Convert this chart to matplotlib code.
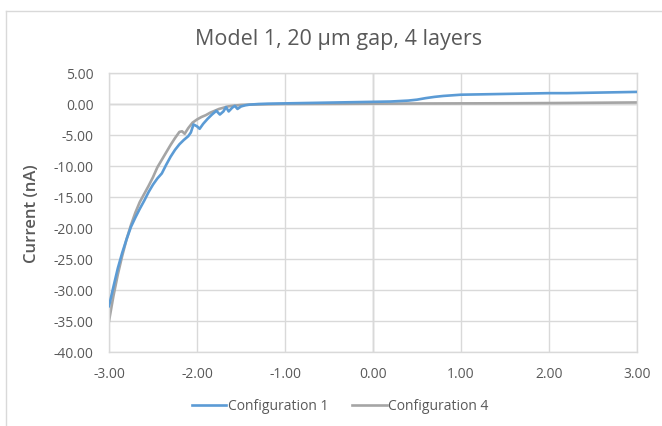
import numpy as np
import matplotlib.pyplot as plt
from matplotlib.lines import Line2D
from matplotlib.ticker import FormatStrFormatter

plt.rcParams['font.family'] = ['Open Sans', 'DejaVu Sans']

# Configuration 1 (blue)
x1 = [-3.0, -2.95, -2.9, -2.85, -2.8, -2.75, -2.7, -2.65, -2.6, -2.55, -2.5,
      -2.45, -2.4, -2.35, -2.3, -2.25, -2.2, -2.15, -2.1, -2.07, -2.04, -2.0,
      -1.97, -1.93, -1.88, -1.83, -1.78, -1.74, -1.70, -1.67, -1.64, -1.6,
      -1.57, -1.54, -1.5, -1.45, -1.4, -1.3, -1.2, -1.0, -0.8, -0.6, -0.4,
      -0.2, 0.0, 0.2, 0.4, 0.5, 0.6, 0.7, 0.8, 0.9, 1.0, 1.2, 1.4, 1.6, 1.8,
      2.0, 2.2, 2.4, 2.6, 2.8, 3.0]
y1 = [-32.6, -29.5, -26.5, -24.0, -21.8, -19.8, -18.3, -16.9, -15.6, -14.2, -13.0,
      -12.0, -11.2, -9.8, -8.5, -7.4, -6.5, -5.8, -5.2, -4.6, -3.3, -3.6,
      -4.0, -3.2, -2.4, -1.7, -1.1, -1.7, -1.2, -0.5, -1.2, -0.6,
      -0.3, -0.8, -0.4, -0.2, -0.1, 0.0, 0.05, 0.1, 0.15, 0.2, 0.25,
      0.3, 0.35, 0.4, 0.55, 0.7, 0.95, 1.15, 1.3, 1.4, 1.5, 1.55, 1.6, 1.65, 1.7,
      1.75, 1.75, 1.8, 1.85, 1.9, 1.95]

# Configuration 4 (gray)
x4 = [-3.0, -2.95, -2.9, -2.85, -2.8, -2.75, -2.7, -2.65, -2.6, -2.55, -2.5,
      -2.45, -2.4, -2.35, -2.3, -2.25, -2.2, -2.17, -2.14, -2.1, -2.05, -2.0,
      -1.95, -1.9, -1.85, -1.8, -1.75, -1.7, -1.65, -1.6, -1.5, -1.4, -1.2,
      -1.0, -0.5, 0.0, 0.5, 1.0, 1.5, 2.0, 2.5, 3.0]
y4 = [-35.0, -31.0, -27.5, -24.5, -21.8, -19.5, -17.5, -15.8, -14.5, -13.2, -11.8,
      -10.2, -9.0, -7.8, -6.6, -5.5, -4.5, -4.4, -4.8, -3.9, -3.0, -2.5,
      -2.1, -1.8, -1.4, -1.1, -0.8, -0.6, -0.4, -0.3, -0.15, -0.1, -0.05,
      0.0, 0.02, 0.05, 0.08, 0.1, 0.12, 0.15, 0.2, 0.25]

txt = '#595959'
grid = '#D9D9D9'

fig = plt.figure(figsize=(6.62, 4.27), dpi=100)
ax = fig.add_axes([109/662, 1-353/427, (637-109)/662, (353-74)/427])

ax.plot(x1, y1, color='#5B9BD5', lw=1.9, label='Configuration 1', zorder=3)
ax.plot(x4, y4, color='#A5A5A5', lw=1.9, label='Configuration 4', zorder=2)

ax.set_xlim(-3, 3)
ax.set_ylim(-40, 5)
ax.set_xticks(np.arange(-3, 4, 1))
ax.set_yticks(np.arange(-40, 10, 5))
ax.xaxis.set_major_formatter(FormatStrFormatter('%.2f'))
ax.yaxis.set_major_formatter(FormatStrFormatter('%.2f'))
ax.grid(True, color=grid, lw=1.0, zorder=0)
ax.axhline(0, color='#BFBFBF', lw=1.0, zorder=1)
ax.axvline(0, color='#BFBFBF', lw=1.0, zorder=1)
for s in ax.spines.values():
    s.set_color(grid)
    s.set_linewidth(1.0)
ax.tick_params(length=0, labelcolor=txt, labelsize=10)
ax.tick_params(axis='y', pad=11)
ax.tick_params(axis='x', pad=10)

ax.set_ylabel('Current (nA)', color=txt, fontsize=12, fontweight='semibold')
ax.yaxis.set_label_coords(-0.131, 0.5)
fig.text(339/662, 1-39/427, 'Model 1, 20 µm gap, 4 layers', ha='center', va='center',
         color=txt, fontsize=15.5)

fig.legend(loc='center', bbox_to_anchor=(340/662, 1-407/427), ncol=2, frameon=False,
           fontsize=10, labelcolor=txt, handlelength=2.5, handletextpad=0.1,
           columnspacing=1.7)

# chart area border
fig.add_artist(Line2D([6/662, 6/662], [0, 1-12/427], transform=fig.transFigure,
                      color='#D9D9D9', lw=1.0))
fig.add_artist(Line2D([6/662, 1], [1-12/427, 1-12/427], transform=fig.transFigure,
                      color='#D9D9D9', lw=1.0))

fig.savefig('out.png', dpi=100)
